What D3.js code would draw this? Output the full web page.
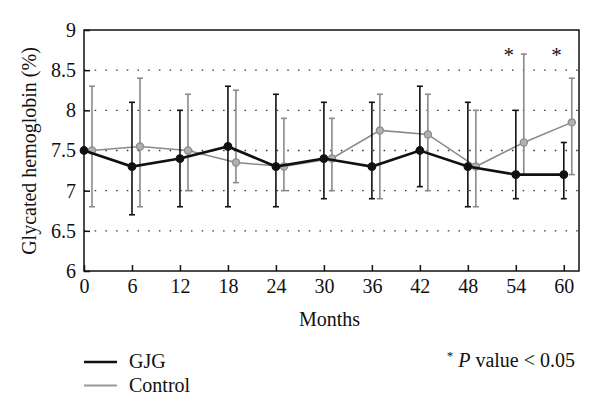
<!DOCTYPE html>
<html><head><meta charset="utf-8">
<script src="https://cdn.jsdelivr.net/npm/d3@7"></script>
<style>body{margin:0;background:#fff} svg text{font-family:"Liberation Serif","Times New Roman","DejaVu Serif",serif !important}</style>
</head><body>
<svg id="c" width="600" height="418"></svg>
<script>
const months = [0, 6, 12, 18, 24, 30, 36, 42, 48, 54, 60];
const gjgMean = [7.5, 7.3, 7.4, 7.55, 7.3, 7.4, 7.3, 7.5, 7.3, 7.2, 7.2];
const gjgLow  = [null, 6.7, 6.8, 6.8, 6.8, 6.9, 6.9, 7.05, 6.8, 6.9, 6.9];
const gjgHigh = [null, 8.1, 8.0, 8.3, 8.2, 8.1, 8.1, 8.3, 8.1, 8.0, 7.6];
const ctlMean = [7.5, 7.55, 7.5, 7.35, 7.3, 7.4, 7.75, 7.7, 7.3, 7.6, 7.85];
const ctlLow  = [6.8, 6.8, 7.0, 7.1, 7.0, 7.0, 6.9, 7.0, 6.8, 7.2, 7.2];
const ctlHigh = [8.3, 8.4, 8.2, 8.25, 7.9, 7.9, 8.2, 8.2, 8.0, 8.7, 8.4];
const yTicks = [6, 6.5, 7, 7.5, 8, 8.5, 9];
const gridTicks = [6.5, 7, 7.5, 8, 8.5];
const sigMonths = [54, 60];
const ctlOffset = 1;

const svg = d3.select("#c");
const L = 84, R = 579, T = 30, B = 271;
const FS = 20;
const x = d3.scaleLinear().domain([0, 61.9]).range([L, R]);
const y = d3.scaleLinear().domain([6, 9]).range([B, T]);

// grid
svg.append("g").selectAll("line").data(gridTicks).join("line")
  .attr("x1", L).attr("x2", R).attr("y1", d => y(d)).attr("y2", d => y(d))
  .attr("stroke", "#333").attr("stroke-width", 1.3).attr("stroke-dasharray", "1.5,9.2");

// frame
svg.append("rect").attr("x", L).attr("y", T).attr("width", R - L).attr("height", B - T)
  .attr("fill", "none").attr("stroke", "#111").attr("stroke-width", 1.5);

// axes
const xAxis = d3.axisBottom(x).tickValues(months).tickSizeInner(-6).tickSizeOuter(0).tickPadding(8);
const gx = svg.append("g").attr("transform", `translate(0,${B})`).call(xAxis);
gx.select(".domain").remove();
gx.selectAll(".tick line").attr("stroke", "#111").attr("stroke-width", 1.5);
gx.selectAll("text").attr("font-size", FS).attr("fill", "#111");

const yAxis = d3.axisLeft(y).tickValues(yTicks).tickFormat(d => String(d)).tickSizeInner(-6).tickSizeOuter(0).tickPadding(8);
const gy = svg.append("g").attr("transform", `translate(${L},0)`).call(yAxis);
gy.select(".domain").remove();
gy.selectAll(".tick line").attr("stroke", "#111").attr("stroke-width", 1.5);
gy.selectAll("text").attr("font-size", FS).attr("fill", "#111");

function series(mean, lo, hi, off, color, lw, ew, r, fill) {
  const g = svg.append("g");
  const idx = months.map((m, i) => i);
  const bars = idx.filter(i => lo[i] != null);
  g.selectAll("line.e").data(bars).join("line")
    .attr("x1", i => x(months[i] + off)).attr("x2", i => x(months[i] + off))
    .attr("y1", i => y(lo[i])).attr("y2", i => y(hi[i]))
    .attr("stroke", color).attr("stroke-width", ew);
  [lo, hi].forEach(arr => {
    g.selectAll(null).data(bars).join("line")
      .attr("x1", i => x(months[i] + off) - 3).attr("x2", i => x(months[i] + off) + 3)
      .attr("y1", i => y(arr[i])).attr("y2", i => y(arr[i]))
      .attr("stroke", color).attr("stroke-width", ew);
  });
  const line = d3.line().x(i => x(months[i] + off)).y(i => y(mean[i]));
  g.append("path").datum(idx).attr("d", line).attr("fill", "none")
    .attr("stroke", color).attr("stroke-width", lw);
  g.selectAll("circle").data(idx).join("circle")
    .attr("cx", i => x(months[i] + off)).attr("cy", i => y(mean[i])).attr("r", r)
    .attr("fill", fill).attr("stroke", color).attr("stroke-width", 1.2);
}
series(ctlMean, ctlLow, ctlHigh, ctlOffset, "#8a8a8a", 1.6, 1.6, 3.6, "#b0b0b0");
series(gjgMean, gjgLow, gjgHigh, 0, "#111", 2.6, 1.6, 3.8, "#111");

// significance stars
svg.selectAll("text.star").data(sigMonths).join("text").attr("class", "star")
  .attr("x", d => x(d - 0.9)).attr("y", 62).attr("text-anchor", "middle")
  .attr("font-size", 21).attr("fill", "#111").text("*");

// axis titles
svg.append("text").attr("x", x(30.7)).attr("y", 326).attr("text-anchor", "middle")
  .attr("font-size", FS).attr("fill", "#111").text("Months");
svg.append("text").attr("transform", `translate(36,151) rotate(-90)`).attr("text-anchor", "middle")
  .attr("font-size", FS).attr("fill", "#111").text("Glycated hemoglobin (%)");

// legend
const legend = [{name: "GJG", color: "#111", w: 2.6}, {name: "Control", color: "#999", w: 1.8}];
const lg = svg.append("g");
legend.forEach((d, i) => {
  const yy = 362 + i * 23.5;
  lg.append("line").attr("x1", 84).attr("x2", 117).attr("y1", yy).attr("y2", yy)
    .attr("stroke", d.color).attr("stroke-width", d.w);
  lg.append("text").attr("x", 129).attr("y", yy + 6).attr("font-size", FS).attr("fill", "#111").text(d.name);
});
const pt = svg.append("text").attr("x", 575).attr("y", 367).attr("text-anchor", "end")
  .attr("font-size", FS).attr("fill", "#111");
pt.append("tspan").attr("font-size", 13).attr("dy", -7).text("*");
pt.append("tspan").attr("dy", 7).attr("font-style", "italic").text(" P");
pt.append("tspan").text(" value < 0.05");
</script>
</body></html>
